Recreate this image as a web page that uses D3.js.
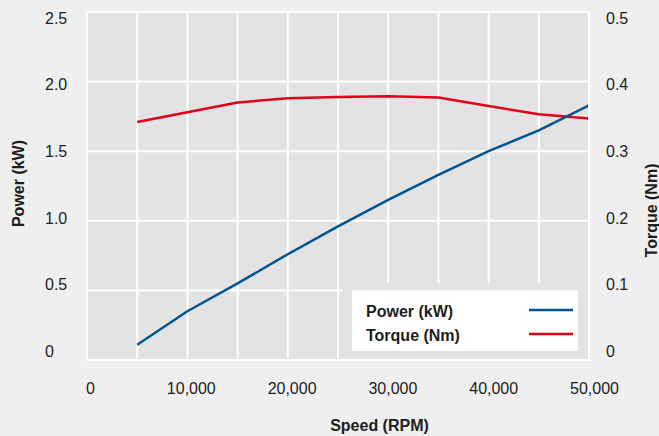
<!DOCTYPE html>
<html>
<head>
<meta charset="utf-8">
<script src="https://cdn.jsdelivr.net/npm/d3@7"></script>
<style>
  body { margin: 0; background: #efefef; }
  text { font-family: "Liberation Sans", Arial, Helvetica, sans-serif; fill: #1d1d1d; }
</style>
</head>
<body>
<div id="viz"></div>
<script>
// Chart data
var SPEED  = [5000, 10000, 15000, 20000, 25000, 30000, 35000, 40000, 45000, 50000];
var POWER  = [0.11, 0.35, 0.55, 0.76, 0.96, 1.15, 1.33, 1.50, 1.65, 1.83];
var TORQUE = [0.342, 0.356, 0.370, 0.376, 0.378, 0.379, 0.377, 0.365, 0.353, 0.347];
var X_TICKS = [0, 10000, 20000, 30000, 40000, 50000];
var POWER_TICKS = [0, 0.5, 1.0, 1.5, 2.0, 2.5];
var TORQUE_TICKS = [0, 0.1, 0.2, 0.3, 0.4, 0.5];
var SERIES = ["Power (kW)", "Torque (Nm)"];

var W = 659, H = 436;
var LEFT = 87, RIGHT = 589, TOP = 12, BOTTOM = 360;
var BLUE = "#00558f", RED = "#e2001a";

var svg = d3.select("#viz").append("svg")
    .attr("width", W)
    .attr("height", H);

svg.append("rect").attr("width", W).attr("height", H).attr("fill", "#efefef");

// Scales for marks
var x = d3.scaleLinear().domain([0, 50000]).range([LEFT, RIGHT]);
var yP = d3.scaleLinear().domain([0, 2.5]).range([BOTTOM, TOP]);
var yT = d3.scaleLinear().domain([0, 0.5]).range([BOTTOM, TOP]);

// Scales for labels (labels sit a bit inside the grid in the original)
var xLab = d3.scaleLinear().domain([0, 50000]).range([90, 594]);
var yLabP = d3.scaleLinear().domain([0, 2.5]).range([351, 18.3]);
var yLabT = d3.scaleLinear().domain([0, 0.5]).range([351, 18.3]);

// Plot background
svg.append("rect")
    .attr("x", LEFT).attr("y", TOP)
    .attr("width", RIGHT - LEFT).attr("height", BOTTOM - TOP)
    .attr("fill", "#e3e3e3");

// Grid
var grid = svg.append("g").attr("stroke", "#fff").attr("stroke-width", 2);
grid.selectAll("line.v")
    .data(d3.range(5000, 50000, 5000))
    .enter().append("line")
    .attr("x1", x).attr("x2", x)
    .attr("y1", TOP).attr("y2", BOTTOM);
grid.selectAll("line.h")
    .data(POWER_TICKS.slice(1, -1))
    .enter().append("line")
    .attr("y1", yP).attr("y2", yP)
    .attr("x1", LEFT).attr("x2", RIGHT);

// Lines
var powerLine = d3.line()
    .x(function(d, i){ return x(SPEED[i]); })
    .y(function(d){ return yP(d); });
var torqueLine = d3.line()
    .x(function(d, i){ return x(SPEED[i]); })
    .y(function(d){ return yT(d); });

svg.append("path").datum(TORQUE)
    .attr("d", torqueLine)
    .attr("fill", "none").attr("stroke", RED).attr("stroke-width", 2.5)
    .attr("stroke-linejoin", "round");
svg.append("path").datum(POWER)
    .attr("d", powerLine)
    .attr("fill", "none").attr("stroke", BLUE).attr("stroke-width", 2.5)
    .attr("stroke-linejoin", "round");

// Legend panel covers the grid
svg.append("rect")
    .attr("x", 343).attr("y", 283)
    .attr("width", RIGHT - 343).attr("height", BOTTOM - 283)
    .attr("fill", "#e3e3e3");

// Border
svg.append("rect")
    .attr("x", LEFT).attr("y", TOP)
    .attr("width", RIGHT - LEFT).attr("height", BOTTOM - TOP)
    .attr("fill", "none").attr("stroke", "#fff").attr("stroke-width", 2);

var legend = svg.append("g");
legend.append("rect")
    .attr("x", 352).attr("y", 290)
    .attr("width", 226).attr("height", 61)
    .attr("fill", "#fff");
var items = legend.selectAll("g.item")
    .data(SERIES)
    .enter().append("g")
    .attr("transform", function(d, i){ return "translate(0," + (i * 24) + ")"; });
items.append("text")
    .attr("x", 366).attr("y", 316.5)
    .style("font-size", "16px").style("font-weight", "bold")
    .text(function(d){ return d; });
items.append("line")
    .attr("x1", 529).attr("x2", 573)
    .attr("y1", 310).attr("y2", 310)
    .attr("stroke", function(d, i){ return i === 0 ? BLUE : RED; })
    .attr("stroke-width", 2.5);

// Axes (labels only)
function styleAxis(g) {
    g.select(".domain").remove();
    g.selectAll("text").style("font-size", "16px").style("fill", "#1d1d1d")
        .attr("font-family", null);
}

svg.append("g")
    .attr("transform", "translate(45,0)")
    .call(d3.axisRight(yLabP).tickValues(POWER_TICKS).tickSize(0).tickPadding(0)
        .tickFormat(function(d){ return d === 0 ? "0" : d3.format(".1f")(d); }))
    .call(styleAxis);

svg.append("g")
    .attr("transform", "translate(606,0)")
    .call(d3.axisRight(yLabT).tickValues(TORQUE_TICKS).tickSize(0).tickPadding(0)
        .tickFormat(function(d){ return d === 0 ? "0" : d3.format(".1f")(d); }))
    .call(styleAxis);

svg.append("g")
    .attr("transform", "translate(0,382.6)")
    .call(d3.axisBottom(xLab).tickValues(X_TICKS).tickSize(0).tickPadding(0)
        .tickFormat(d3.format(",")))
    .call(styleAxis);

// Axis titles
svg.append("text")
    .attr("transform", "translate(24,183.5) rotate(-90)")
    .attr("text-anchor", "middle")
    .style("font-size", "16px").style("font-weight", "bold")
    .text("Power (kW)");
svg.append("text")
    .attr("transform", "translate(657,210.5) rotate(-90)")
    .attr("text-anchor", "middle")
    .style("font-size", "16px").style("font-weight", "bold")
    .text("Torque (Nm)");
svg.append("text")
    .attr("x", 379.5).attr("y", 430.5)
    .attr("text-anchor", "middle")
    .style("font-size", "16px").style("font-weight", "bold")
    .text("Speed (RPM)");
</script>
</body>
</html>
